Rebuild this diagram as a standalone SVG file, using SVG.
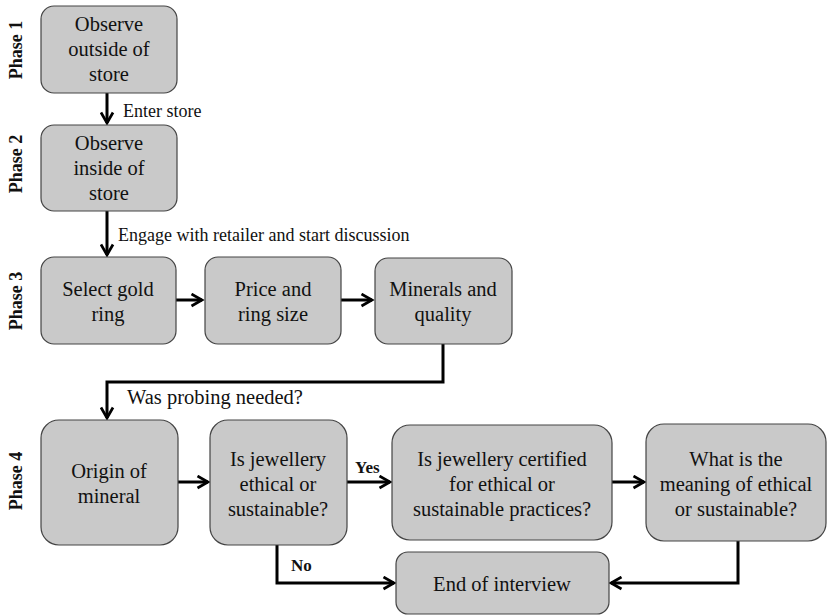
<svg xmlns="http://www.w3.org/2000/svg" width="829" height="616" viewBox="0 0 829 616">
<style>
.box{fill:#c9c9c9;stroke:#444;stroke-width:1.2}
.t{font-family:"Liberation Serif","Times New Roman",serif;font-size:20.5px;fill:#111;text-anchor:middle}
.lbl{font-family:"Liberation Serif","Times New Roman",serif;font-size:18px;fill:#111}
.ph{font-family:"Liberation Serif","Times New Roman",serif;font-size:18px;font-weight:bold;fill:#111;text-anchor:middle}
.yn{font-family:"Liberation Serif","Times New Roman",serif;font-size:17px;font-weight:bold;fill:#111}
.c{fill:none;stroke:#000;stroke-width:3;marker-end:url(#ah)}
</style>
<defs>
<marker id="ah" viewBox="0 0 10 10" refX="8" refY="5" markerWidth="5" markerHeight="5" markerUnits="strokeWidth" orient="auto">
<path d="M1,1 L8,5 L1,9" fill="none" stroke="#000" stroke-width="1.8"/>
</marker>
</defs>
<rect width="829" height="616" fill="#fff"/>
<g id="phases">
<text class="ph" transform="translate(22,50) rotate(-90)">Phase 1</text>
<text class="ph" transform="translate(22,164) rotate(-90)">Phase 2</text>
<text class="ph" transform="translate(22,301) rotate(-90)">Phase 3</text>
<text class="ph" transform="translate(22,481) rotate(-90)">Phase 4</text>
</g>
<g id="connectors">
<path class="c" d="M107,93 V123"/>
<path class="c" d="M107,211 V255"/>
<path class="c" d="M176,300 H202"/>
<path class="c" d="M341,300 H372"/>
<path class="c" d="M443,344 V382 H107 V418"/>
<path class="c" d="M178,482 H208"/>
<path class="c" d="M347,482 H390"/>
<path class="c" d="M612,482 H644"/>
<path class="c" d="M277,545 V583 H394"/>
<path class="c" d="M738,541 V583 H611"/>
<text class="lbl" x="123" y="117">Enter store</text>
<text class="lbl" x="118" y="241">Engage with retailer and start discussion</text>
<text class="lbl" x="127" y="404" style="font-size:20.5px">Was probing needed?</text>
<text class="yn" x="355" y="473">Yes</text>
<text class="yn" x="291" y="571">No</text>
</g>
<g id="n1"><rect class="box" x="41" y="6" width="136" height="87" rx="13"/>
<text class="t" x="109" y="31">Observe</text><text class="t" x="109" y="56">outside of</text><text class="t" x="109" y="81">store</text></g>
<g id="n2"><rect class="box" x="41" y="125" width="136" height="86" rx="13"/>
<text class="t" x="109" y="150">Observe</text><text class="t" x="109" y="175">inside of</text><text class="t" x="109" y="200">store</text></g>
<g id="n3"><rect class="box" x="41" y="257" width="135" height="87" rx="13"/>
<text class="t" x="108" y="296">Select gold</text><text class="t" x="108" y="321">ring</text></g>
<g id="n4"><rect class="box" x="205" y="257" width="136" height="87" rx="13"/>
<text class="t" x="273" y="296">Price and</text><text class="t" x="273" y="321">ring size</text></g>
<g id="n5"><rect class="box" x="375" y="258" width="137" height="86" rx="13"/>
<text class="t" x="443" y="296">Minerals and</text><text class="t" x="443" y="321">quality</text></g>
<g id="n6"><rect class="box" x="41" y="420" width="137" height="125" rx="18"/>
<text class="t" x="109" y="478">Origin of</text><text class="t" x="109" y="503">mineral</text></g>
<g id="n7"><rect class="box" x="210" y="420" width="137" height="125" rx="18"/>
<text class="t" x="278" y="466">Is jewellery</text><text class="t" x="278" y="491">ethical or</text><text class="t" x="278" y="516">sustainable?</text></g>
<g id="n8"><rect class="box" x="392" y="425" width="220" height="115" rx="18"/>
<text class="t" x="502" y="466">Is jewellery certified</text><text class="t" x="502" y="491">for ethical or</text><text class="t" x="502" y="516">sustainable practices?</text></g>
<g id="n9"><rect class="box" x="646" y="424" width="180" height="117" rx="18"/>
<text class="t" x="736" y="466">What is the</text><text class="t" x="736" y="491">meaning of ethical</text><text class="t" x="736" y="516">or sustainable?</text></g>
<g id="n10"><rect class="box" x="396" y="552" width="213" height="62" rx="12"/>
<text class="t" x="502" y="591">End of interview</text></g>
</svg>
